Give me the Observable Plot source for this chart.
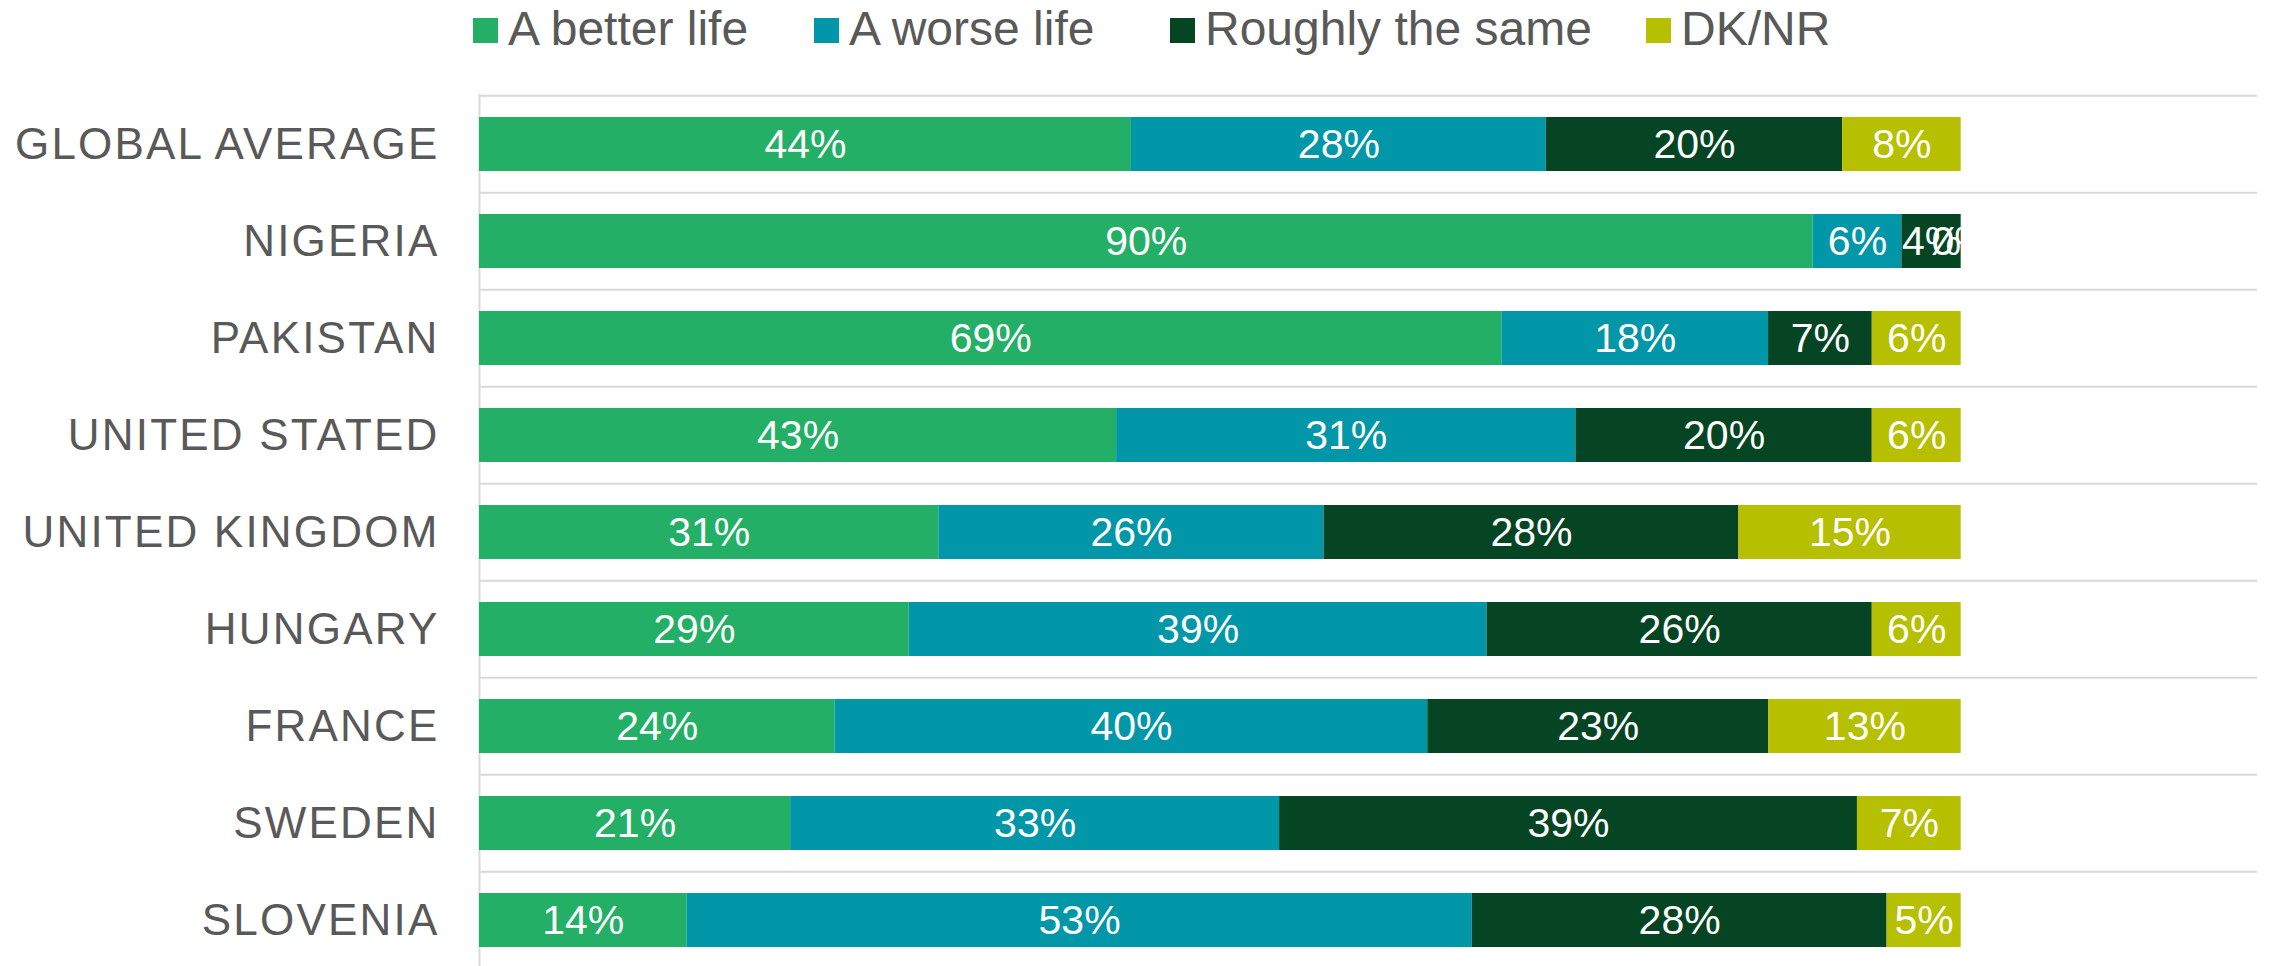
<!DOCTYPE html>
<html>
<head>
<meta charset="utf-8">
<script src="https://cdn.jsdelivr.net/npm/d3@7"></script>
<script src="https://cdn.jsdelivr.net/npm/@observablehq/plot@0.6"></script>
<style>
  html, body { margin: 0; padding: 0; background: #fff; overflow: hidden; }
  body { width: 2270px; height: 966px; font-family: "Liberation Sans", Arial, sans-serif; }
  #legend { position: relative; height: 60px; width: 2270px; }
  .item { position: absolute; top: 0; height: 60px; display: flex; align-items: flex-start; }
  .sw { width: 25px; height: 25px; margin-top: 18px; margin-right: 10px; }
  .lab { font-size: 48px; color: #595959; line-height: 1; margin-top: 5px; white-space: nowrap; }
  #chart svg g[aria-label="y-axis tick label"] text { letter-spacing: 2.2px; }
</style>
</head>
<body>
<div id="legend"></div>
<div id="chart"></div>
<script>
const countries = ["GLOBAL AVERAGE","NIGERIA","PAKISTAN","UNITED STATED","UNITED KINGDOM","HUNGARY","FRANCE","SWEDEN","SLOVENIA"];
const categories = ["A better life","A worse life","Roughly the same","DK/NR"];
const colors = ["#23B066","#0197A8","#054523","#B6BF00"];
const better = [44,90,69,43,31,29,24,21,14];
const worse  = [28,6,18,31,26,39,40,33,53];
const same   = [20,4,7,20,28,26,23,39,28];
const dknr   = [8,0,6,6,15,6,13,7,5];
const legendLeft = [473, 814, 1170, 1646];

const series = [better, worse, same, dknr];
const data = [];
countries.forEach((c, i) => {
  categories.forEach((cat, j) => {
    data.push({country: c, category: cat, value: series[j][i]});
  });
});

// legend
const lg = document.getElementById("legend");
categories.forEach((cat, j) => {
  const it = document.createElement("div");
  it.className = "item";
  it.style.left = legendLeft[j] + "px";
  it.innerHTML = `<div class="sw" style="background:${colors[j]}"></div><div class="lab">${cat}</div>`;
  lg.appendChild(it);
});

const H = 911, MT = 34;
const step = (H - MT) / countries.length;

const chart = Plot.plot({
  width: 2270,
  height: H,
  marginTop: MT,
  marginBottom: 0,
  marginLeft: 479,
  marginRight: 13,
  style: {fontFamily: '"Liberation Sans", Arial, sans-serif', background: "white"},
  x: {domain: [0, 120], axis: null},
  y: {domain: countries, paddingInner: 0.443, paddingOuter: 0.2215, label: null},
  color: {domain: categories, range: colors},
  marks: [
    Plot.ruleY(countries, {y: d => d, dy: -step / 2, stroke: "#d9d9d9", strokeWidth: 2}),
    Plot.ruleX([0], {stroke: "#d9d9d9", strokeWidth: 2}),
    Plot.barX(data, {x: "value", y: "country", fill: "category", order: categories}),
    Plot.text(data, Plot.stackX({x: "value", y: "country", z: "category", order: categories,
      text: d => d.value + "%", fill: "white", fontSize: 41})),
    Plot.axisY({tickSize: 0, tickPadding: 40, fontSize: 44, fill: "#595959", label: null})
  ]
});
document.getElementById("chart").appendChild(chart);
</script>
</body>
</html>
